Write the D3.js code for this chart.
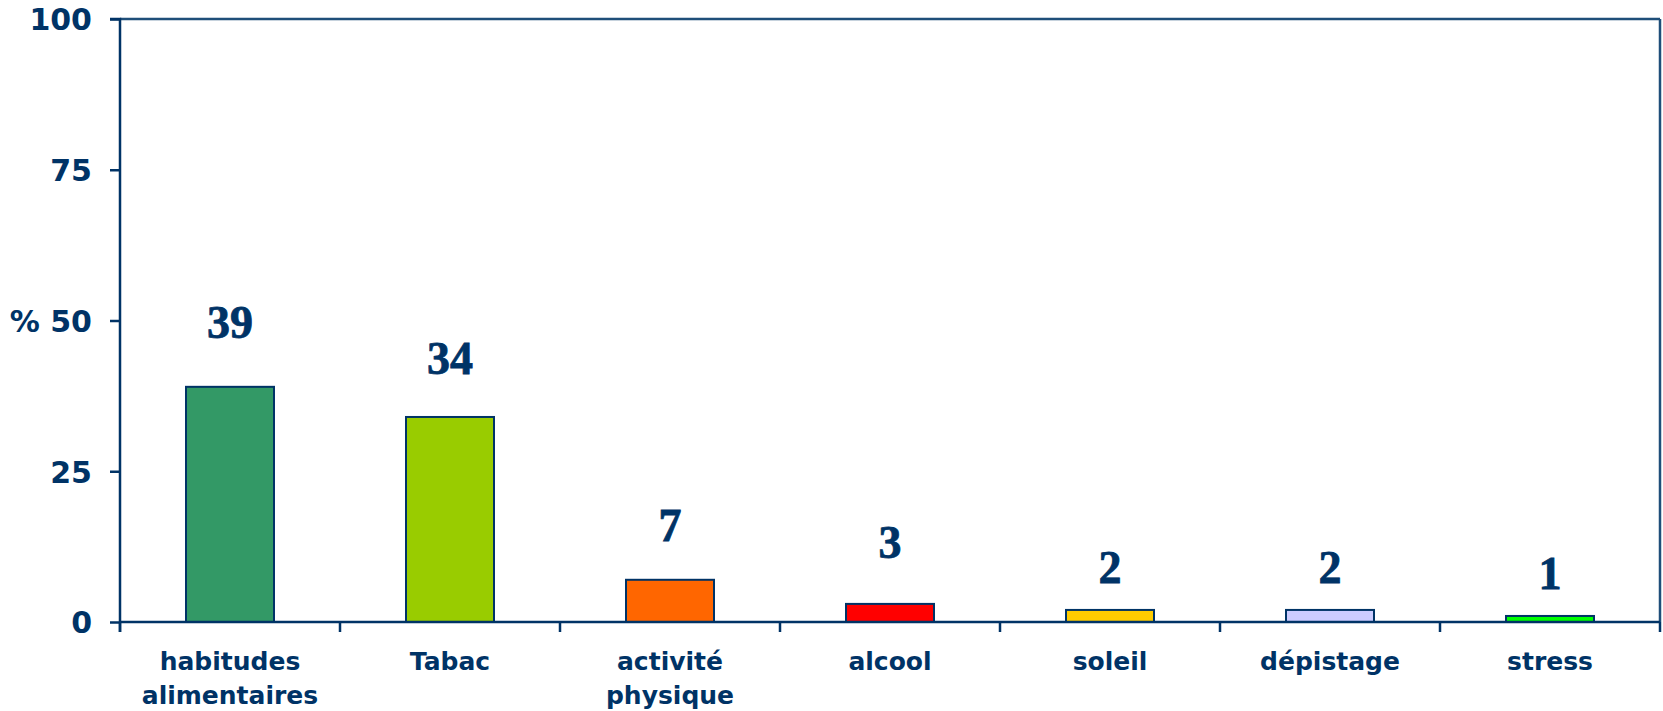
<!DOCTYPE html>
<html>
<head>
<meta charset="utf-8">
<script src="https://cdn.jsdelivr.net/npm/d3@7"></script>
<style>
  html, body { margin: 0; padding: 0; background: #ffffff; }
  svg { display: block; }
</style>
</head>
<body>
<svg id="chart" width="1663" height="711"></svg>
<script>
// ---- data ----
const categories = [["habitudes", "alimentaires"], ["Tabac"], ["activité", "physique"], ["alcool"], ["soleil"], ["dépistage"], ["stress"]];
const values = [39, 34, 7, 3, 2, 2, 1];
const barColors = ["#339966", "#99CC00", "#FF6600", "#FF0000", "#FFCC00", "#CCCCFF", "#00FF00"];
const yTicks = [0, 25, 50, 75, 100];
const yTickLabels = ["0", "25", "% 50", "75", "100"];

// ---- layout (not data) ----
const navy = "#003366";
const mLeft = 120, mRight = 1660, mTop = 19, mBottom = 622;
const labelGap = [49, 43, 39, 46, 27, 27, 27];

const svg = d3.select("#chart");

const x = d3.scaleBand()
  .domain(d3.range(values.length))
  .range([mLeft, mRight])
  .paddingInner(0.6)
  .paddingOuter(0.3);

const y = d3.scaleLinear().domain([0, 100]).range([mBottom, mTop]);

// bars
svg.append("g").selectAll("rect")
  .data(values)
  .join("rect")
  .attr("x", (d, i) => x(i))
  .attr("y", d => y(d))
  .attr("width", x.bandwidth())
  .attr("height", d => y(0) - y(d))
  .attr("fill", (d, i) => barColors[i])
  .attr("stroke", navy)
  .attr("stroke-width", 2);

// frame top & right
svg.append("line").attr("x1", mLeft).attr("x2", mRight).attr("y1", mTop).attr("y2", mTop)
  .attr("stroke", "#1F4E79").attr("stroke-width", 2.5);
svg.append("line").attr("x1", mRight).attr("x2", mRight).attr("y1", mTop).attr("y2", mBottom)
  .attr("stroke", "#1F4E79").attr("stroke-width", 2.5);

// y axis
const yAxis = d3.axisLeft(y)
  .tickValues(yTicks)
  .tickFormat((d, i) => yTickLabels[i])
  .tickSize(10)
  .tickPadding(18);
const gy = svg.append("g").attr("transform", `translate(${mLeft},0)`).call(yAxis);
gy.select(".domain").attr("stroke", navy).attr("stroke-width", 2.5)
  .attr("d", `M-10,${mTop}H0V${mBottom + 10}`);
gy.selectAll(".tick line").attr("stroke", navy).attr("stroke-width", 2.5);
gy.selectAll(".tick text")
  .attr("fill", navy)
  .style("font-family", "'DejaVu Sans', Verdana, sans-serif")
  .style("font-weight", "bold")
  .style("font-size", "30px")
  .attr("dy", "0.36em");

// x axis (baseline and boundary ticks)
const step = x.step();
const boundaries = d3.range(values.length + 1).map(i => mLeft + i * step);
svg.append("line").attr("x1", mLeft).attr("x2", mRight).attr("y1", y(0)).attr("y2", y(0))
  .attr("stroke", navy).attr("stroke-width", 2.5);
svg.append("g").selectAll("line")
  .data(boundaries)
  .join("line")
  .attr("x1", d => d).attr("x2", d => d)
  .attr("y1", y(0)).attr("y2", y(0) + 10)
  .attr("stroke", navy).attr("stroke-width", 2.5);

// category labels
const catG = svg.append("g");
categories.forEach((lines, i) => {
  const cx = x(i) + x.bandwidth() / 2;
  const t = catG.append("text")
    .attr("x", cx)
    .attr("y", 670)
    .attr("text-anchor", "middle")
    .attr("fill", navy)
    .style("font-family", "'DejaVu Sans', Verdana, sans-serif")
    .style("font-weight", "bold")
    .style("font-size", "25px");
  lines.forEach((ln, j) => {
    t.append("tspan").attr("x", cx).attr("dy", j === 0 ? 0 : 34).text(ln);
  });
});

// value labels
svg.append("g").selectAll("text")
  .data(values)
  .join("text")
  .attr("x", (d, i) => x(i) + x.bandwidth() / 2)
  .attr("y", (d, i) => y(d) - labelGap[i])
  .attr("text-anchor", "middle")
  .attr("fill", navy)
  .attr("stroke", navy)
  .attr("stroke-width", 0.8)
  .style("font-family", "'Liberation Serif', 'Times New Roman', serif")
  .style("font-weight", "bold")
  .style("font-size", "46px")
  .text(d => d);
</script>
</body>
</html>
